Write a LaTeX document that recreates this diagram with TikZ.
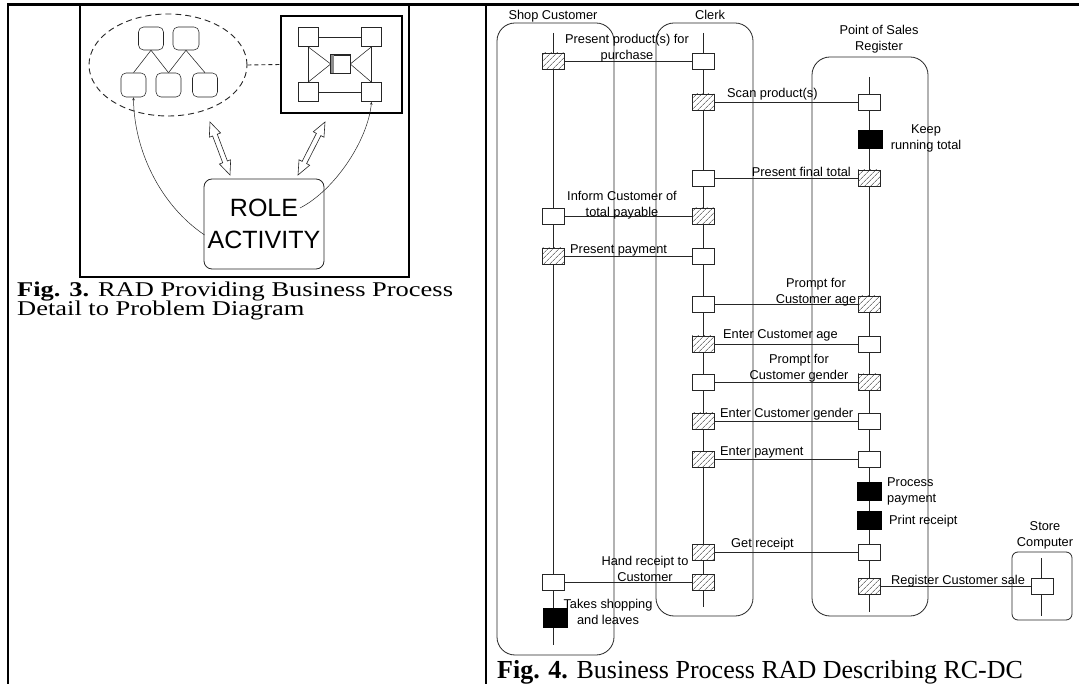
\documentclass[tikz,border=0pt]{standalone}
\usepackage{fontspec}
\usepackage{graphicx}
\setmainfont{Liberation Serif}
\newfontfamily\sansf{Liberation Sans}
\usetikzlibrary{patterns.meta,calc,arrows.meta,shapes.geometric}
\newcommand\dblarr[2]{%
  \coordinate (#1h) at ($(#1)!14pt!(#2)$);
  \coordinate (#2h) at ($(#2)!14pt!(#1)$);
  \draw[line width=0.6pt,draw=black!85,fill=white,line join=miter]
   (#1) -- ($(#1h)!6pt!90:(#2)$) -- ($(#1h)!2.5pt!90:(#2)$) -- ($(#2h)!2.5pt!-90:(#1)$) -- ($(#2h)!6pt!-90:(#1)$) -- (#2)
   -- ($(#2h)!6pt!90:(#1)$) -- ($(#2h)!2.5pt!90:(#1)$) -- ($(#1h)!2.5pt!-90:(#2)$) -- ($(#1h)!6pt!-90:(#2)$) -- cycle;}
\begin{document}
\begin{tikzpicture}[x=1pt,y=-1pt,
  ln/.style={draw=black!85,line width=0.8pt},
  thin/.style={draw=black!85,line width=0.55pt},
  lane/.style={ln,rounded corners=18pt},
  act/.style={ln,fill=white,minimum width=22pt,minimum height=16pt,inner sep=0pt},
  hact/.style={ln,minimum width=22pt,minimum height=16pt,inner sep=0pt,preaction={fill=white},
     pattern={Lines[angle=45,distance=4pt,line width=0.6pt]},pattern color=black!80},
  bact/.style={draw=black,fill=black,minimum width=24pt,minimum height=18pt,inner sep=0pt},
  lbl/.style={font=\sansf\fontsize{12.8}{16}\selectfont,inner sep=0pt,align=center},
  tbl/.style={draw=black,line width=2.4pt},
  rbox/.style={thin,rounded corners=5pt,minimum width=25pt,minimum height=23pt,inner sep=0pt},
  sq/.style={thin,minimum width=20pt,minimum height=19pt,inner sep=0pt},
]
\useasboundingbox (0,0) rectangle (1079,684);
\fill[white] (0,0) rectangle (1079,684);

% ---------- table ----------
\coordinate (tl) at (7,5); \coordinate (tr) at (1079,5);
\coordinate (lb) at (8,684); \coordinate (lt) at (8,5);
\coordinate (mt) at (486,5); \coordinate (mb) at (486,684);
\draw[tbl,line width=3pt] (tl) -- (tr);
\draw[tbl,line width=2pt] (lt) -- (lb);
\draw[tbl,line width=2.2pt] (mt) -- (mb);
\coordinate (f3a) at (80,5); \coordinate (f3b) at (80,277);
\coordinate (f3c) at (409,277); \coordinate (f3d) at (409,5);
\draw[tbl,line width=2.6pt] (f3a) -- (f3b) -- (f3c) -- (f3d);

% ---------- Fig 3 ----------
\node[ellipse,draw=black!85,line width=0.9pt,dash pattern=on 6pt off 4pt,minimum width=158pt,minimum height=102pt,inner sep=0pt] (cloud) at (168,65) {};
\node[rbox] (t1) at (151,38.5) {};
\node[rbox,minimum width=26pt] (t2) at (186,38.5) {};
\node[rbox,minimum height=24pt] (b3) at (133.5,85) {};
\node[rbox,minimum height=24pt] (b4) at (168.5,85) {};
\node[rbox,minimum height=24pt] (b5) at (205,85) {};
\draw[thin] (t1.south) -- (b3.north);
\draw[thin] (t1.south) -- (b4.north);
\draw[thin] (t2.south) -- (b4.north);
\draw[thin] (t2.south) -- (b5.north);

\node[draw=black,line width=1.2pt,minimum width=121pt,minimum height=97pt,inner sep=0pt] (pd) at (341.5,64.5) {};
\draw[draw=black!85,line width=0.9pt,dash pattern=on 4pt off 3pt] (cloud.east) -- (pd.west);
\node[sq] (sTL) at (308,37) {};
\node[sq] (sTR) at (371.5,37) {};
\node[sq] (sBL) at (308,92) {};
\node[sq] (sBR) at (371.5,92) {};
\node[thin,minimum width=19pt,minimum height=18pt,inner sep=0pt] (cb) at (340.5,64) {};
\fill[black!45] (cb.north west) rectangle ($(cb.south west)+(3,0)$);
\draw[thin] (cb.north west) rectangle (cb.south east);
\draw[thin] (sTL.east) -- (sTR.west);
\draw[thin] (sBL.east) -- (sBR.west);
\draw[thin] (sTL.south) -- (sBL.north);
\draw[thin] (sTR.south) -- (sBR.north);
\draw[thin] (sTL.south) -- (cb.west);
\draw[thin] (sBL.north) -- (cb.west);
\draw[thin] (sTR.south) -- (cb.east);
\draw[thin] (sBR.north) -- (cb.east);

\node[draw=black!85,line width=0.8pt,rounded corners=8pt,minimum width=120pt,minimum height=90pt,inner sep=0pt,
  font=\sansf\fontsize{25}{32}\selectfont,align=center] (role) at (264,224) {ROLE\\ACTIVITY};

\coordinate (da1) at (210,122); \coordinate (db1) at (230,175);
\coordinate (da2) at (325,122); \coordinate (db2) at (298,175);
\dblarr{da1}{db1}
\dblarr{da2}{db2}

\coordinate (cl1) at ($(role.west)+(1,11)$);
\coordinate (cr1) at ($(role.center)+(36,-16)$);
\draw[thin,line width=0.5pt,-{Stealth[length=3pt,width=2.5pt]}] (cl1) .. controls (160,205) and (134,150) .. (b3.south);
\draw[thin,line width=0.5pt,-{Stealth[length=3pt,width=2.5pt]}] (cr1) .. controls (335,190) and (368,140) .. (sBR.south);

\node[anchor=base west,inner sep=0pt,font=\fontsize{21}{21}\selectfont] (cap3a) at (17,297)
  {\scalebox{1.26}[1]{\textbf{Fig. 3.} RAD Providing Business Process}};
\node[anchor=base west,inner sep=0pt,font=\fontsize{21}{21}\selectfont] (cap3b) at (17,316)
  {\scalebox{1.26}[1]{Detail to Problem Diagram}};

% ---------- Fig 4 lanes ----------
\node[lane,minimum width=117pt,minimum height=632pt,inner sep=0pt] (laneS) at (555.5,339) {};
\node[lane,minimum width=97pt,minimum height=593pt,inner sep=0pt] (laneC) at (704.5,319.5) {};
\node[lane,minimum width=116pt,minimum height=559pt,inner sep=0pt] (laneP) at (870,336.5) {};
\node[ln,rounded corners=6pt,minimum width=60pt,minimum height=68pt,inner sep=0pt] (laneK) at (1042,586) {};

\node[lbl,anchor=base] (nS) at (553,19.6) {Shop Customer};
\node[lbl,anchor=base] (nC) at (710,19.6) {Clerk};
\node[lbl] (nP) at (879,39) {Point of Sales\\Register};
\node[lbl] (nK) at (1045,535) {Store\\Computer};

% threads
\coordinate (thS1) at (553,33); \coordinate (thS2) at (553,645);
\coordinate (thC1) at (703,33); \coordinate (thC2) at (703,607);
\coordinate (thP1) at (869,77); \coordinate (thP2) at (869,612);
\coordinate (thK1) at (1041,558); \coordinate (thK2) at (1041,616);
\draw[ln] (thS1) -- (thS2);
\draw[ln] (thC1) -- (thC2);
\draw[ln] (thP1) -- (thP2);
\draw[ln] (thK1) -- (thK2);

% activities: shop
\node[hact] (s1) at (553,61) {};
\node[act] (s5) at (553,216) {};
\node[hact] (s6) at (553,256) {};
\node[act] (s15) at (553,582) {};
\node[bact,minimum height=19pt] (s17) at (555,618) {};
% clerk
\node[act] (c1) at (703,61) {};
\node[hact] (c2) at (703,102) {};
\node[act] (c4) at (703,178) {};
\node[hact] (c5) at (703,216) {};
\node[act] (c6) at (703,256) {};
\node[act] (c7) at (703,304) {};
\node[hact] (c8) at (703,344) {};
\node[act] (c9) at (703,382) {};
\node[hact] (c10) at (703,421) {};
\node[hact] (c11) at (703,459) {};
\node[hact] (c14) at (703,552) {};
\node[hact] (c15) at (703,582) {};
% POS
\node[act] (p2) at (869,102) {};
\node[bact] (p3) at (870,139) {};
\node[hact] (p4) at (869,178) {};
\node[hact] (p7) at (869,304) {};
\node[act] (p8) at (869,344) {};
\node[hact] (p9) at (869,382) {};
\node[act] (p10) at (869,421) {};
\node[act] (p11) at (869,459) {};
\node[bact] (p12) at (869,491) {};
\node[bact] (p13) at (869,520) {};
\node[act] (p14) at (869,552) {};
\node[hact] (p16) at (869,586) {};
% store
\node[act] (k16) at (1042,586) {};

% interactions
\draw[ln] (s1.east) -- (c1.west);
\draw[ln] (c2.east) -- (p2.west);
\draw[ln] (c4.east) -- (p4.west);
\draw[ln] (s5.east) -- (c5.west);
\draw[ln] (s6.east) -- (c6.west);
\draw[ln] (c7.east) -- (p7.west);
\draw[ln] (c8.east) -- (p8.west);
\draw[ln] (c9.east) -- (p9.west);
\draw[ln] (c10.east) -- (p10.west);
\draw[ln] (c11.east) -- (p11.west);
\draw[ln] (c14.east) -- (p14.west);
\draw[ln] (s15.east) -- (c15.west);
\draw[ln] (p16.east) -- (k16.west);

% labels
\node[lbl] (l1) at (627,48) {Present product(s) for\\purchase};
\node[lbl,anchor=base west] (l2) at (727,97.6) {Scan product(s)};
\node[lbl] (l3) at (926,138) {Keep\\running total};
\node[lbl,anchor=base east] (l4) at (851,176.6) {Present final total};
\node[lbl] (l5) at (622,205) {Inform Customer of\\total payable};
\node[lbl,anchor=base west] (l6) at (570,253.6) {Present payment};
\node[lbl] (l7) at (816,292) {Prompt for\\Customer age};
\node[lbl,anchor=base west] (l8) at (723,338.6) {Enter Customer age};
\node[lbl] (l9) at (799,368) {Prompt for\\Customer gender};
\node[lbl,anchor=base west] (l10) at (720,417.6) {Enter Customer gender};
\node[lbl,anchor=base west] (l11) at (720,455.6) {Enter payment};
\node[lbl,anchor=west,align=left] (l12) at (887,491) {Process\\payment};
\node[lbl,anchor=base west] (l13) at (889,524.6) {Print receipt};
\node[lbl,anchor=base west] (l14) at (731,547.6) {Get receipt};
\node[lbl] (l15) at (645,569) {Hand receipt to\\Customer};
\node[lbl,anchor=base west] (l16) at (891,584.6) {Register Customer sale};
\node[lbl] (l17) at (608,612) {Takes shopping\\and leaves};

\node[anchor=base west,inner sep=0pt,font=\fontsize{26}{30}\selectfont] (cap4) at (497,678)
  {\textbf{Fig. 4.} Business Process RAD Describing RC-DC};
\end{tikzpicture}
\end{document}
